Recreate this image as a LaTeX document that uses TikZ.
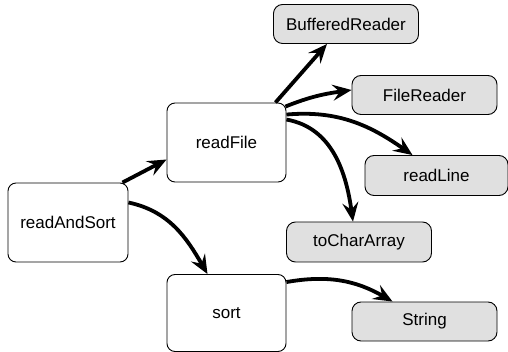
\documentclass[tikz,border=0pt]{standalone}
\usepackage{fontspec}
\setmainfont{Liberation Sans}
\usetikzlibrary{arrows.meta}

\tikzstyle{method}=[draw=black,fill=white,line width=0.9pt,rounded corners=8pt,inner sep=0pt,
	minimum width=119pt,minimum height=79pt,font=\fontsize{17}{20}\selectfont]
\tikzstyle{library}=[draw=black,fill=black!12,line width=0.9pt,rounded corners=9pt,inner sep=0pt,
	minimum width=145pt,minimum height=39pt,font=\fontsize{17}{20}\selectfont]
\tikzstyle{call}=[line width=3.8pt,-{Stealth[length=19pt,width=16pt,inset=7pt]}]

\begin{document}
\begin{tikzpicture}[x=1pt,y=1pt]
			\useasboundingbox (0,0) rectangle (508,-352);
			%Adding the methods
			\node[method,minimum width=120pt] (readAndSort) at (68,-222.5) {readAndSort};
			\node[method] (readFile) at (226.5,-142.5) {readFile};
			\node[method,minimum height=77pt] (sort) at (226.5,-313) {sort};
			%Adding the library calls
			\node[library] (BufferedReader) at (346,-24) {BufferedReader};
			\node[library] (FileReader) at (424.5,-95) {FileReader};
			\node[library,minimum width=143pt,minimum height=40pt] (readLine) at (436.5,-175.5) {readLine};
			\node[library,minimum height=40pt] (toCharArray) at (359,-242) {toCharArray};
			\node[library] (String) at (424.5,-321.5) {String};
			%Adding the calls
			\draw[call] ([xshift=-6pt]readAndSort.north east) -- ([yshift=-17pt]readFile.west);
			\draw[call] ([yshift=20pt]readAndSort.east) to[out=-12,in=120] ([xshift=-19pt]sort.north);
			\draw[call] ([xshift=-11pt]readFile.north east) -- ([xshift=-19pt]BufferedReader.south);
			\draw[call] ([xshift=-1pt,yshift=-4pt]readFile.north east) to[out=22,in=188] ([yshift=5pt]FileReader.west);
			\draw[call] ([yshift=-12pt]readFile.north east) to[out=5,in=145] ([xshift=-24pt]readLine.north);
			\draw[call] ([yshift=-17pt]readFile.north east) to[out=-10,in=98] ([xshift=-6pt]toCharArray.north);
			\draw[call] ([yshift=-8pt]sort.north east) to[out=10,in=150] ([xshift=-32pt]String.north);
		\end{tikzpicture}
\end{document}
